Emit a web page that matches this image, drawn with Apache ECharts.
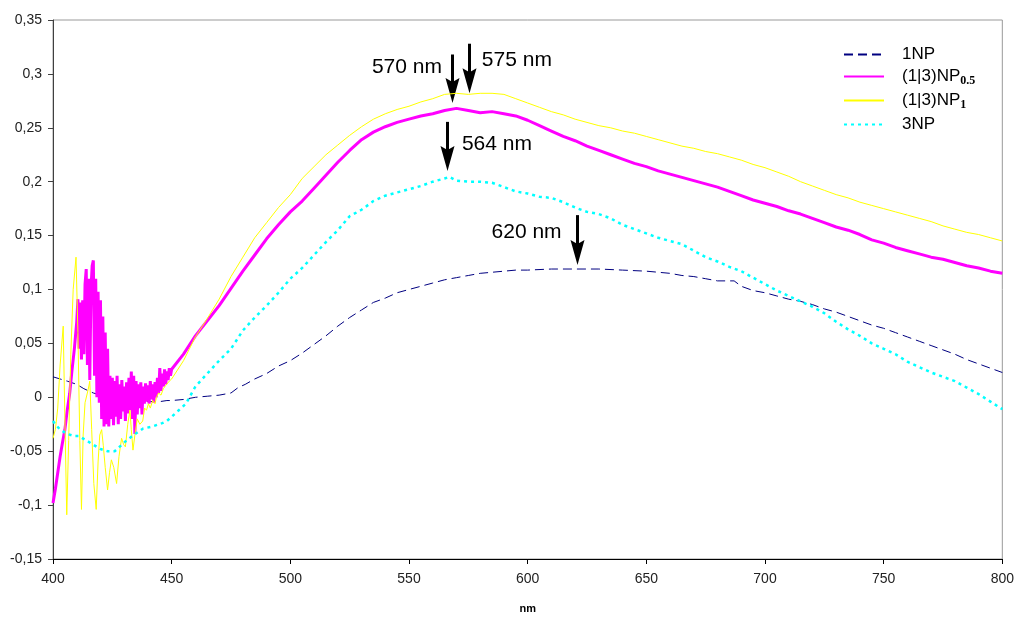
<!DOCTYPE html>
<html>
<head>
<meta charset="utf-8">
<script src="https://cdn.jsdelivr.net/npm/echarts@6/dist/echarts.min.js"></script>
<style>
  html, body { margin: 0; padding: 0; background: #fff; }
  #chart { width: 1017px; height: 619px; }
</style>
</head>
<body>
<div id="chart"></div>
<script>
// wavelength (nm) / absorbance pairs
const np1Nm = [400, 403, 406, 410, 413, 417, 420, 425, 430, 435, 440, 445, 448, 450, 455, 460, 465, 470, 475, 478, 481, 485, 490, 495, 500, 505, 510, 515, 520, 525, 530, 535, 540, 545, 550, 555, 560, 565, 570, 575, 580, 585, 590, 595, 600, 610, 620, 630, 640, 650, 660, 665, 670, 675, 680, 685, 687, 690, 695, 700, 705, 710, 715, 720, 725, 730, 735, 740, 745, 750, 755, 760, 765, 770, 775, 780, 785, 790, 795, 800];
const np1Abs = [0.019, 0.017, 0.015, 0.012, 0.008, 0.004, 0.002, 0.0, -0.002, -0.003, -0.004, -0.004, -0.003, -0.003, -0.002, 0.0, 0.001, 0.002, 0.004, 0.009, 0.012, 0.017, 0.022, 0.029, 0.034, 0.041, 0.049, 0.057, 0.066, 0.074, 0.081, 0.088, 0.092, 0.097, 0.100, 0.103, 0.106, 0.109, 0.111, 0.113, 0.115, 0.116, 0.117, 0.118, 0.118, 0.119, 0.119, 0.119, 0.118, 0.117, 0.115, 0.113, 0.112, 0.110, 0.108, 0.108, 0.108, 0.103, 0.099, 0.097, 0.094, 0.091, 0.089, 0.086, 0.082, 0.079, 0.075, 0.071, 0.067, 0.064, 0.060, 0.056, 0.052, 0.048, 0.044, 0.040, 0.035, 0.031, 0.027, 0.023];

const np05Nm = [400, 401, 402, 403, 404, 405, 406, 407, 408, 409,
  410, 410.5, 411, 411.5, 412, 412.5, 413, 413.5, 414, 414.5, 415, 415.5, 416, 416.5, 417, 417.5, 418, 418.5, 419, 419.5,
  420, 420.5, 421, 421.5, 422, 422.5, 423, 423.5, 424, 424.5, 425, 425.5, 426, 426.5, 427, 427.5, 428, 428.5, 429, 429.5,
  430, 430.5, 431, 431.5, 432, 432.5, 433, 433.5, 434, 434.5, 435, 435.5, 436, 436.5, 437, 437.5, 438, 438.5, 439, 439.5,
  440, 440.5, 441, 441.5, 442, 442.5, 443, 443.5, 444, 444.5, 445, 445.5, 446, 446.5, 447, 447.5, 448, 448.5, 449, 449.5,
  450, 455, 460, 465, 470, 475, 480, 485, 490, 495, 500, 505, 510, 515, 520, 525, 530, 535, 540, 545, 550, 555, 560, 565,
  570, 575, 580, 585, 590, 595, 600, 605, 610, 615, 620, 625, 630, 635, 640, 645, 650, 655, 660, 665, 670, 675, 680, 685,
  690, 695, 700, 705, 710, 715, 720, 725, 730, 735, 740, 745, 750, 755, 760, 765, 770, 775, 780, 785, 790, 795, 800];
const np05Abs = [-0.098, -0.085, -0.070, -0.055, -0.042, -0.030, -0.012, 0.003, 0.025, 0.045,
  0.070, 0.091, 0.045, 0.088, 0.035, 0.090, 0.040, 0.105, 0.119, 0.030, 0.110, 0.016, 0.100, 0.122, 0.127, 0.020, 0.110, 0.000, 0.098, -0.005,
  0.090, -0.020, 0.075, -0.027, 0.060, -0.025, 0.045, -0.027, 0.020, -0.020, 0.018, -0.026, 0.015, -0.018, 0.020, -0.025, 0.012, -0.020, 0.016, -0.013,
  0.010, -0.022, 0.014, -0.015, 0.018, -0.012, 0.024, -0.020, 0.020, -0.034, 0.015, -0.016, 0.012, -0.010, 0.014, -0.016, 0.010, -0.006, 0.013, -0.004,
  0.011, -0.006, 0.015, -0.002, 0.012, -0.005, 0.014, 0.000, 0.018, 0.004, 0.027, 0.006, 0.022, 0.010, 0.026, 0.012, 0.024, 0.016, 0.027, 0.020,
  0.026, 0.040, 0.057, 0.071, 0.085, 0.101, 0.117, 0.132, 0.147, 0.160, 0.172, 0.182, 0.194, 0.206, 0.218, 0.229, 0.239, 0.246, 0.251, 0.255, 0.258, 0.261, 0.263, 0.266,
  0.268, 0.266, 0.264, 0.265, 0.263, 0.261, 0.257, 0.252, 0.247, 0.242, 0.238, 0.233, 0.229, 0.225, 0.221, 0.217, 0.214, 0.210, 0.207, 0.204, 0.201, 0.198, 0.195, 0.191,
  0.187, 0.183, 0.180, 0.177, 0.173, 0.170, 0.166, 0.162, 0.158, 0.155, 0.151, 0.146, 0.143, 0.139, 0.136, 0.133, 0.130, 0.128, 0.125, 0.122, 0.120, 0.117, 0.115];

const np10Nm = [400, 401, 402, 403, 404.3, 405, 405.8, 406.6, 407.5, 408.5, 409.7, 410.5, 411.3, 412, 412.7, 413.5, 414.8, 415.5, 416.3, 417.2,
  418.2, 419, 419.7, 420.5, 421.2, 422, 423, 423.8, 424.6, 425.6, 426.8, 427.8, 428.9, 429.8, 430.5, 431.5, 432.4, 433, 433.7, 434.5,
  435.5, 436.6, 437.8, 438.6, 439.4, 440.2, 441, 442, 443, 443.6, 444.5, 445.5, 446.5, 447.5, 448.2, 449,
  450, 455, 460, 465, 470, 475, 480, 485, 490, 495, 500, 505, 510, 515, 520, 525, 530, 535, 540, 545, 550, 555, 560, 565,
  570, 575, 580, 585, 590, 595, 600, 605, 610, 615, 620, 625, 630, 635, 640, 645, 650, 655, 660, 665, 670, 675, 680, 685,
  690, 695, 700, 705, 710, 715, 720, 725, 730, 735, 740, 745, 750, 755, 760, 765, 770, 775, 780, 785, 790, 795, 800];
const np10Abs = [-0.038, -0.030, -0.010, 0.030, 0.066, -0.020, -0.109, -0.040, 0.040, 0.100, 0.130, 0.060, -0.040, -0.104, -0.035, -0.005, 0.007, 0.015, -0.030, -0.080,
  -0.104, -0.060, -0.035, -0.030, -0.045, -0.065, -0.086, -0.070, -0.058, -0.065, -0.080, -0.055, -0.038, -0.044, -0.046, -0.025, -0.012, -0.030, -0.049, -0.035,
  -0.020, -0.025, -0.022, -0.010, -0.012, -0.006, -0.010, -0.003, -0.006, 0.000, 0.004, 0.002, 0.008, 0.011, 0.010, 0.015,
  0.017, 0.034, 0.056, 0.073, 0.091, 0.112, 0.130, 0.148, 0.162, 0.176, 0.188, 0.203, 0.214, 0.225, 0.234, 0.243, 0.251, 0.258, 0.263, 0.267, 0.270, 0.274, 0.277, 0.281,
  0.282, 0.281, 0.282, 0.282, 0.281, 0.277, 0.273, 0.269, 0.265, 0.262, 0.258, 0.255, 0.252, 0.250, 0.247, 0.245, 0.242, 0.239, 0.236, 0.233, 0.231, 0.228, 0.226, 0.223,
  0.220, 0.216, 0.213, 0.209, 0.205, 0.200, 0.196, 0.192, 0.188, 0.185, 0.181, 0.178, 0.175, 0.172, 0.169, 0.166, 0.163, 0.159, 0.156, 0.153, 0.151, 0.148, 0.145];

const np3Nm = [400, 401, 403, 406, 409, 411, 414, 417, 420, 423, 426, 428, 431, 434, 438, 442, 446, 448, 450, 453, 456,
  460, 465, 470, 475, 480, 485, 490, 495, 500, 505, 510, 515, 520, 525, 530, 535, 540, 545, 550, 555, 560, 565, 567,
  570, 575, 580, 585, 590, 595, 600, 605, 610, 615, 620, 625, 630, 635, 640, 645, 650, 655, 660, 665, 670, 675, 680, 685,
  690, 695, 700, 705, 710, 715, 720, 725, 730, 735, 740, 745, 750, 755, 760, 765, 770, 775, 780, 785, 790, 795, 800];
const np3Abs = [-0.022, -0.025, -0.030, -0.034, -0.036, -0.036, -0.040, -0.044, -0.048, -0.050, -0.050, -0.046, -0.040, -0.035, -0.029, -0.027, -0.024, -0.022, -0.018, -0.012, -0.006,
  0.010, 0.022, 0.034, 0.045, 0.062, 0.074, 0.085, 0.097, 0.110, 0.120, 0.132, 0.144, 0.155, 0.168, 0.174, 0.182, 0.187, 0.190, 0.193, 0.196, 0.200, 0.203, 0.2045,
  0.201, 0.200, 0.200, 0.199, 0.195, 0.191, 0.189, 0.186, 0.185, 0.181, 0.176, 0.172, 0.170, 0.166, 0.160, 0.156, 0.152, 0.148, 0.145, 0.142, 0.136, 0.130, 0.126, 0.121,
  0.117, 0.111, 0.105, 0.099, 0.094, 0.089, 0.084, 0.078, 0.070, 0.063, 0.057, 0.050, 0.045, 0.040, 0.033, 0.028, 0.023, 0.019, 0.015, 0.009, 0.003, -0.004, -0.011];

// peak markers: arrow x, arrow top, arrow tip (data units)
const arrows = [
  { nm: 568, top: 0.318, tip: 0.273 },
  { nm: 575.2, top: 0.328, tip: 0.282 },
  { nm: 566, top: 0.2555, tip: 0.21 },
  { nm: 620.6, top: 0.169, tip: 0.1227 }
];
const notes = [
  { text: '570 nm', nm: 563.9, v: 0.306, align: 'right' },
  { text: '575 nm', nm: 580.7, v: 0.313, align: 'left' },
  { text: '564 nm', nm: 572.3, v: 0.2345, align: 'left' },
  { text: '620 nm', nm: 614.3, v: 0.153, align: 'right' }
];

const zip = (xs, ys) => xs.map((x, i) => [x, ys[i]]);
const FONT = 'Liberation Sans, Arial, sans-serif';

const chart = echarts.init(document.getElementById('chart'));

chart.setOption({
  animation: false,
  backgroundColor: '#fff',
  grid: { left: 53, right: 12, top: 20, bottom: 51, show: true, borderColor: '#9a9a9a', borderWidth: 1 },
  legend: {
    orient: 'vertical',
    left: 838,
    top: 41,
    itemWidth: 40,
    itemHeight: 14,
    itemGap: 5,
    itemStyle: { opacity: 0 },
    textStyle: {
      fontFamily: FONT, fontSize: 17, color: '#000', padding: [0, 0, 0, 13],
      rich: { sub: { fontFamily: 'Liberation Serif, serif', fontWeight: 'bold', fontSize: 12, padding: [9, 0, 0, 0] } }
    },
    formatter: name => ({ '(1|3)NP0.5': '(1|3)NP{sub|0.5}', '(1|3)NP1': '(1|3)NP{sub|1}' }[name] || name)
  },
  xAxis: {
    type: 'value', min: 400, max: 800, interval: 50,
    name: 'nm', nameLocation: 'middle', nameGap: 44,
    nameTextStyle: { fontFamily: FONT, fontSize: 11, fontWeight: 'bold', color: '#000' },
    axisLine: { onZero: false, lineStyle: { color: '#000', width: 1 } },
    axisTick: { length: 5, lineStyle: { color: '#000' } },
    axisLabel: { fontFamily: FONT, fontSize: 14, color: '#222', margin: 13 },
    splitLine: { show: false }
  },
  yAxis: {
    type: 'value', min: -0.15, max: 0.35, interval: 0.05,
    axisLine: { show: true, onZero: false, lineStyle: { color: '#404040', width: 1 } },
    axisTick: { show: true, length: 5, lineStyle: { color: '#404040' } },
    axisLabel: {
      fontFamily: FONT, fontSize: 14, color: '#222', margin: 11,
      formatter: v => v === 0 ? '0' : String(+v.toFixed(2)).replace('.', ',')
    },
    splitLine: { show: false }
  },
  series: [
    { name: '1NP', type: 'line', symbol: 'none', data: zip(np1Nm, np1Abs),
      lineStyle: { color: '#000080', width: 1, type: [9, 5] }, itemStyle: { color: '#000080' } },
    { name: '(1|3)NP0.5', type: 'line', symbol: 'none', data: zip(np05Nm, np05Abs),
      lineStyle: { color: '#ff00ff', width: 3 }, itemStyle: { color: '#ff00ff' } },
    { name: '(1|3)NP1', type: 'line', symbol: 'none', data: zip(np10Nm, np10Abs),
      lineStyle: { color: '#ffff00', width: 1 }, itemStyle: { color: '#ffff00' } },
    { name: '3NP', type: 'line', symbol: 'none', data: zip(np3Nm, np3Abs),
      lineStyle: { color: '#00ffff', width: 2.5, type: [3, 4] }, itemStyle: { color: '#00ffff' } }
  ]
});

// arrows and peak labels, placed through the grid's own scales
const px = p => chart.convertToPixel({ gridIndex: 0 }, p);
const graphics = [];
arrows.forEach(a => {
  const t = px([a.nm, a.top]);
  const e = px([a.nm, a.tip]);
  const x = Math.round(t[0]) + 0.5;
  graphics.push({ type: 'line', shape: { x1: x, y1: t[1], x2: x, y2: e[1] - 18 }, style: { stroke: '#000', lineWidth: 3 } });
  graphics.push({ type: 'polygon', shape: { points: [[x, e[1]], [x - 7, e[1] - 25], [x, e[1] - 21], [x + 7, e[1] - 25]] }, style: { fill: '#000' } });
});
notes.forEach(n => {
  const p = px([n.nm, n.v]);
  graphics.push({ type: 'text', x: p[0], y: p[1], style: { text: n.text, fontFamily: FONT, fontSize: 21, fill: '#000', align: n.align, verticalAlign: 'middle' } });
});
chart.setOption({ graphic: graphics });
</script>
</body>
</html>
